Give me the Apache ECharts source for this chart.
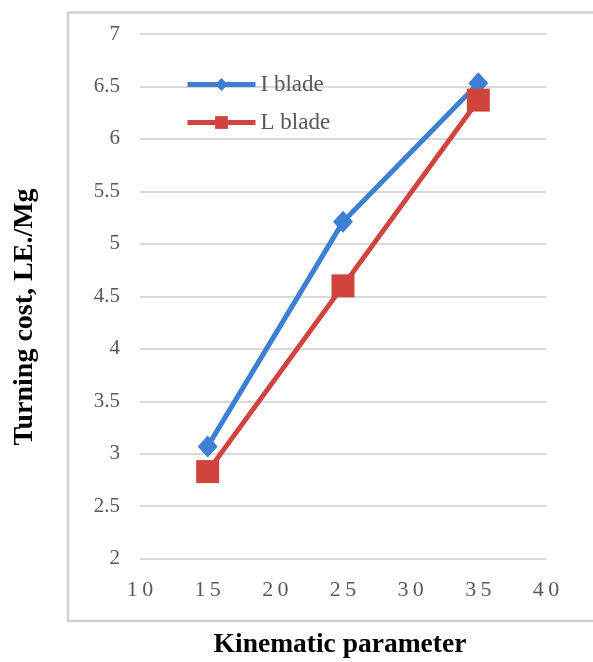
<!DOCTYPE html>
<html>
<head>
<meta charset="utf-8">
<script src="https://cdn.jsdelivr.net/npm/echarts@6/dist/echarts.min.js"></script>
<style>
html,body{margin:0;padding:0;background:#fff;}
#c{width:593px;height:662px;}
</style>
</head>
<body>
<div id="c"></div>
<script>
const xValues = [15, 25, 35];
const iBlade = [3.07, 5.21, 6.53];
const lBlade = [2.83, 4.60, 6.37];
const seriesNames = ['I blade', 'L blade'];
const yTicks = [2, 2.5, 3, 3.5, 4, 4.5, 5, 5.5, 6, 6.5, 7];
const xTicks = [10, 15, 20, 25, 30, 35, 40];
const xTitle = 'Kinematic parameter';
const yTitle = 'Turning cost, LE./Mg';

const chart = echarts.init(document.getElementById('c'), null, {renderer: 'canvas'});
const serif = '"Liberation Serif", "Times New Roman", serif';
const pair = (xs, ys) => xs.map((x, i) => [x, ys[i]]);

chart.setOption({
  animation: false,
  backgroundColor: '#ffffff',
  graphic: [
    {type: 'rect', shape: {x: 68, y: 12.5, width: 560, height: 608.5},
     style: {fill: 'none', stroke: '#d0d0d0', lineWidth: 2.5}, z: -1},
    {type: 'text', x: 25, y: 317, rotation: Math.PI / 2,
     style: {text: yTitle, fill: '#000', font: 'bold 28px ' + serif,
             align: 'center', verticalAlign: 'middle'}},
    {type: 'text', x: 340, y: 645,
     style: {text: xTitle, fill: '#000', font: 'bold 27.5px ' + serif,
             align: 'center', verticalAlign: 'middle'}}
  ],
  grid: {left: 140, right: 47, top: 34, bottom: 103.3, containLabel: false},
  legend: {
    data: seriesNames,
    orient: 'vertical',
    left: 180, top: 68,
    itemWidth: 68, itemHeight: 16, itemGap: 15,
    lineStyle: {width: 5},
    textStyle: {color: '#595959', fontSize: 23, fontFamily: serif}
  },
  xAxis: {
    type: 'value', min: xTicks[0], max: xTicks[xTicks.length - 1], interval: 5,
    axisLine: {show: false}, axisTick: {show: false}, splitLine: {show: false},
    axisLabel: {
      color: '#595959', fontSize: 22, fontFamily: serif, margin: 21,
      formatter: v => String(v).split('').join('\u2009')
    }
  },
  yAxis: {
    type: 'value', min: yTicks[0], max: yTicks[yTicks.length - 1], interval: 0.5,
    axisLine: {show: false}, axisTick: {show: false},
    splitLine: {show: true, lineStyle: {color: '#d9d9d9', width: 2}},
    axisLabel: {color: '#595959', fontSize: 21, fontFamily: serif, margin: 20}
  },
  series: [
    {
      name: seriesNames[0], type: 'line', data: pair(xValues, iBlade),
      symbol: 'diamond', symbolSize: [20, 22],
      lineStyle: {color: '#3d7fd3', width: 5},
      itemStyle: {color: '#3d7fd3'}
    },
    {
      name: seriesNames[1], type: 'line', data: pair(xValues, lBlade),
      symbol: 'rect', symbolSize: 23,
      lineStyle: {color: '#d0443d', width: 5},
      itemStyle: {color: '#d0443d'}
    }
  ]
});
</script>
</body>
</html>
